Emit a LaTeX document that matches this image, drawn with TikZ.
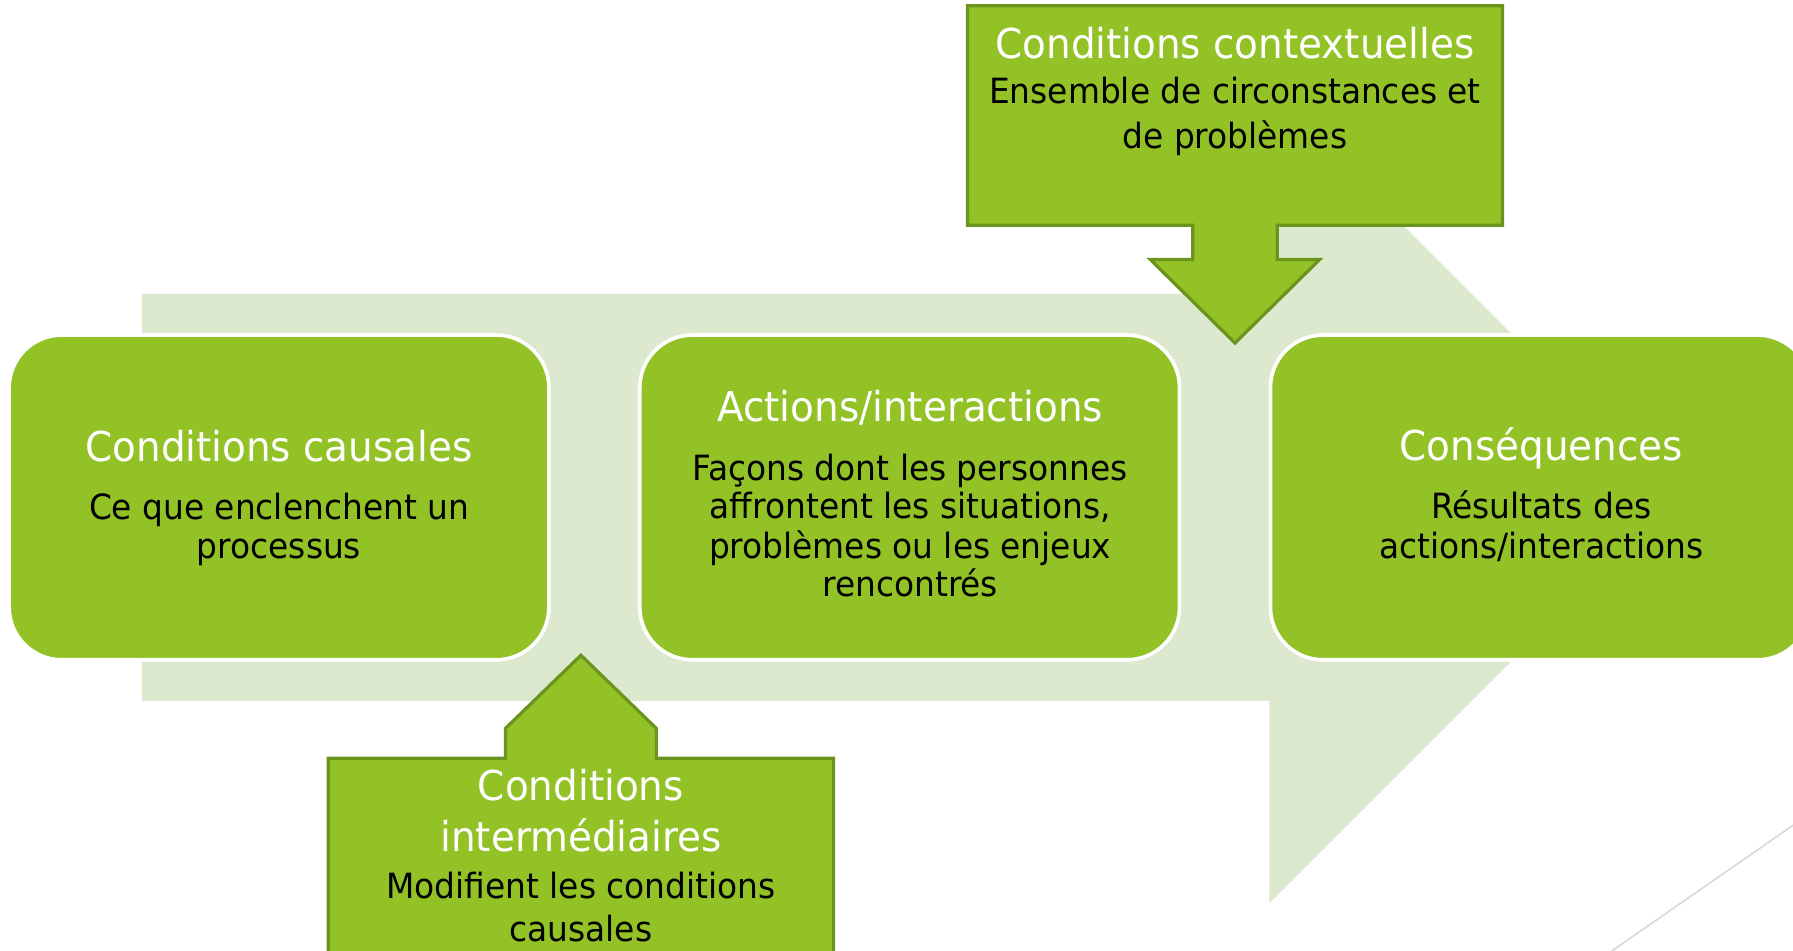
\documentclass[tikz,border=0pt]{standalone}
\usepackage{fontspec}
\setmainfont{DejaVu Sans Condensed}
\newfontfamily\bodyfont[FakeStretch=1.05]{DejaVu Sans Condensed}
\newfontfamily\titlefont[FakeStretch=1.05]{DejaVu Sans Condensed}
\definecolor{mainG}{RGB}{146,194,38}
\definecolor{paleG}{RGB}{220,233,206}
\definecolor{edgeG}{RGB}{107,148,30}
\definecolor{lineGr}{RGB}{217,217,217}
\begin{document}
\begin{tikzpicture}[x=0.5pt,y=-0.5pt,
  titletxt/.style={anchor=base, inner sep=0pt, text=white, font=\titlefont\fontsize{18}{21}\selectfont},
  bodytxt/.style={anchor=base, inner sep=0pt, text=black, font=\bodyfont\fontsize{15.2}{18}\selectfont},
  stagebox/.style={fill=mainG, draw=white, line width=1.6pt, rounded corners=23pt, minimum width=236pt, minimum height=142pt, inner sep=0pt},
  callout/.style={fill=mainG, draw=edgeG, line width=1.4pt, line join=miter}]
\useasboundingbox (0,0) rectangle (1568,831);
\clip (0,0) rectangle (1568,831);
\fill[white] (0,0) rectangle (1568,831);
% background arrow
\fill[paleG] (124,257) -- (1110,257) -- (1110,80) -- (1465,435) -- (1110,790) -- (1110,613) -- (124,613) -- cycle;
% stage boxes
\node[stagebox] (causal) at (244,435) {};
\node[stagebox] (action) at (795.5,435) {};
\node[stagebox] (conseq) at (1347,435) {};
% top callout
\draw[callout] (846,5) -- (1314,5) -- (1314,197) -- (1117,197) -- (1117,227) -- (1154,227) -- (1080,300) -- (1006,227) -- (1043,227) -- (1043,197) -- (846,197) -- cycle;
% bottom callout
\draw[callout] (287,663) -- (442,663) -- (442,637) -- (508,573) -- (574,637) -- (574,663) -- (729,663) -- (729,900) -- (287,900) -- cycle;
% grey decorative line
\draw[lineGr, line width=0.7pt] (1396,841) -- (1582,712);
% texts
\node[titletxt] (causalT) at (244,404) {Conditions causales};
\node[bodytxt] (causalB1) at (244,454) {Ce que enclenchent un};
\node[bodytxt] (causalB2) at (244,488) {processus};
\node[titletxt] (actionT) at (796,369) {Actions/interactions};
\node[bodytxt] (actionB1) at (796,420) {Façons dont les personnes};
\node[bodytxt] (actionB2) at (796,453.5) {affrontent les situations,};
\node[bodytxt] (actionB3) at (796,488) {problèmes ou les enjeux};
\node[bodytxt] (actionB4) at (796,522) {rencontrés};
\node[titletxt] (conseqT) at (1348,403) {Conséquences};
\node[bodytxt] (conseqB1) at (1348,453) {Résultats des};
\node[bodytxt] (conseqB2) at (1348,488) {actions/interactions};
\node[titletxt] (contT) at (1080,51) {Conditions contextuelles};
\node[bodytxt] (contB1) at (1080,90.5) {Ensemble de circonstances et};
\node[bodytxt] (contB2) at (1080,129.7) {de problèmes};
\node[titletxt] (interT1) at (508,700) {Conditions};
\node[titletxt] (interT2) at (508,745) {intermédiaires};
\node[bodytxt] (interB1) at (508,785.5) {Modifient les conditions};
\node[bodytxt] (interB2) at (508,823.5) {causales};
\end{tikzpicture}
\end{document}
